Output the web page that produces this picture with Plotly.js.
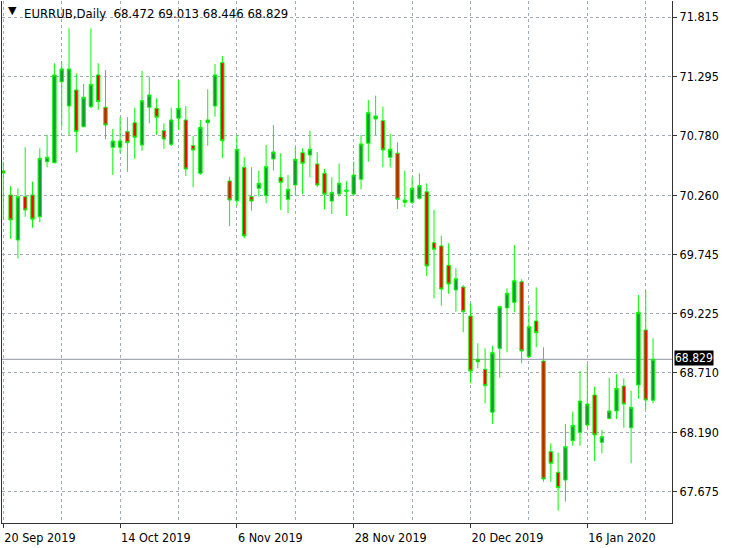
<!DOCTYPE html>
<html>
<head>
<meta charset="utf-8">
<script src="https://cdn.plot.ly/plotly-3.0.1.min.js"></script>
<style>
html,body{margin:0;padding:0;background:#fff;}
#chart{width:730px;height:548px;}
</style>
</head>
<body>
<div id="chart"></div>
<script>
// ---- data (EURRUB daily) ----
var symbol = "EURRUB,Daily";
var openP = [70.472,70.263,69.870,70.248,70.263,70.073,70.553,70.544,71.251,71.039,
71.179,70.859,71.033,71.310,71.028,70.679,70.679,70.815,70.893,70.699,
71.028,71.019,70.824,70.705,70.932,70.917,70.693,70.452,70.893,71.039,
71.417,70.385,70.213,70.504,70.248,70.321,70.257,70.577,70.417,70.225,
70.350,70.632,70.612,70.533,70.452,70.210,70.271,70.293,70.271,70.400,
70.714,70.926,70.911,70.592,70.627,70.199,70.199,70.234,70.291,69.846,
69.818,69.649,69.434,69.460,69.207,68.829,68.742,68.367,68.925,69.277,
69.326,69.506,68.852,69.163,68.814,68.023,67.843,67.776,68.119,68.192,
68.256,68.518,68.105,68.314,68.378,68.596,68.232,68.605,69.085,68.472];
var highP = [70.553,70.341,70.321,70.679,70.379,70.670,70.786,71.412,71.426,71.717,
71.324,71.231,71.717,71.412,71.353,70.839,70.941,70.941,71.024,71.345,
71.295,71.106,70.888,71.024,71.266,71.039,70.777,70.917,71.185,71.406,
71.475,70.422,70.786,70.592,70.504,70.475,70.699,70.873,70.627,70.437,
70.681,70.670,70.824,70.638,70.490,70.417,70.537,70.385,70.555,70.786,
71.092,71.129,71.033,70.795,70.722,70.475,70.417,70.452,70.365,70.132,
69.908,69.841,69.623,69.477,69.318,68.969,68.925,68.948,69.294,69.449,
69.826,69.527,69.303,69.457,68.934,68.096,68.014,68.265,68.372,68.727,
68.788,68.590,68.212,68.669,68.698,68.663,68.555,69.390,69.428,69.013];
var lowP = [70.044,69.879,69.710,70.073,69.977,70.024,70.504,70.540,70.859,70.786,
70.632,70.856,71.020,71.004,70.749,70.437,70.627,70.466,70.577,70.647,
70.888,70.786,70.664,70.690,70.830,70.428,70.330,70.440,70.693,70.946,
70.583,69.992,70.167,69.885,70.126,70.248,70.190,70.475,70.132,70.103,
70.263,70.271,70.417,70.332,70.138,70.097,70.250,70.079,70.254,70.311,
70.553,70.786,70.504,70.504,70.141,70.155,70.184,70.223,69.556,69.361,
69.297,69.399,69.244,69.065,68.620,68.751,68.445,68.265,68.669,68.890,
69.239,68.794,68.840,68.934,67.761,67.761,67.508,67.587,68.075,68.075,
68.238,67.942,68.009,68.305,68.308,68.232,67.922,68.483,68.393,68.446];
var closeP = [70.454,70.045,70.248,70.132,70.051,70.583,70.592,71.310,71.362,71.362,
70.815,71.115,71.228,71.077,70.873,70.734,70.734,70.719,70.766,71.085,
71.135,70.941,70.751,70.917,71.019,70.489,70.655,70.853,70.917,71.310,
70.736,70.219,70.661,69.905,70.210,70.365,70.510,70.638,70.373,70.312,
70.574,70.539,70.661,70.350,70.269,70.286,70.365,70.306,70.437,70.708,
70.981,70.952,70.655,70.661,70.225,70.219,70.321,70.344,69.643,69.789,
69.442,69.486,69.532,69.244,68.727,68.808,68.599,68.887,69.288,69.405,
69.515,68.902,69.114,69.061,67.785,67.922,67.709,68.067,68.253,68.465,
68.439,68.169,68.154,68.378,68.576,68.439,68.410,69.239,68.474,68.829];
var dateTickIdx = [0,16,32,48,64,80];
var dateTickText = ["20 Sep 2019","14 Oct 2019","6 Nov 2019","28 Nov 2019","20 Dec 2019","16 Jan 2020"];
var minorGridIdx = [8,24,40,56,72,88];
var priceTicks = [71.815,71.295,70.780,70.260,69.745,69.225,68.710,68.190,67.675];
var priceTickText = ["71.815","71.295","70.780","70.260","69.745","69.225","68.710","68.190","67.675"];

// ---- build ----
var barIdx = openP.map(function(_, i){ return i; });
var last = openP.length - 1;
var FONT = "'DejaVu Sans Condensed', 'Liberation Sans', sans-serif";
var GRID = '#a2aab7';

var trace = {
  type: 'candlestick',
  x: barIdx, open: openP, high: highP, low: lowP, close: closeP,
  increasing: {line: {color: '#00ff00', width: 1}, fillcolor: '#21923c'},
  decreasing: {line: {color: '#00ff00', width: 1}, fillcolor: '#ff0000'},
  whiskerwidth: 0,
  hoverinfo: 'skip'
};

var header = symbol + '\u00a0 ' + [openP[last], highP[last], lowP[last], closeP[last]].map(function(v){return v.toFixed(3);}).join(' ');

var layout = {
  width: 730, height: 548,
  margin: {l: 2, r: 58, t: 1, b: 25, pad: 0},
  paper_bgcolor: '#ffffff', plot_bgcolor: '#ffffff',
  showlegend: false,
  boxgap: 0.33,
  font: {family: FONT, size: 12, color: '#000'},
  xaxis: {
    range: [-0.18, 91.6],
    rangeslider: {visible: false},
    tickmode: 'array', tickvals: dateTickIdx, ticktext: dateTickText,
    ticks: 'outside', ticklen: 4, tickcolor: '#333', tickwidth: 1,
    ticklabelposition: 'outside right',
    ticklabelstandoff: 3,
    tickfont: {family: FONT, size: 12.5, color: '#000'},
    showgrid: true, gridcolor: GRID, gridwidth: 1, griddash: '3px,3px',
    minor: {tickmode: 'array', tickvals: minorGridIdx, showgrid: true, gridcolor: GRID, gridwidth: 1, griddash: '3px,3px', ticks: ''},
    showline: true, linecolor: '#333', linewidth: 1, mirror: false,
    zeroline: false, fixedrange: true
  },
  yaxis: {
    side: 'right',
    range: [67.401, 71.955],
    tickmode: 'array', tickvals: priceTicks, ticktext: priceTickText,
    ticks: 'outside', ticklen: 4, tickcolor: '#333', tickwidth: 1,
    tickfont: {family: FONT, size: 12.5, color: '#000'},
    showgrid: true, gridcolor: GRID, gridwidth: 1, griddash: '3px,3px',
    showline: true, linecolor: '#333', linewidth: 1, mirror: true,
    zeroline: false, fixedrange: true
  },
  shapes: [{
    type: 'line', xref: 'paper', x0: 0, x1: 1, yref: 'y', y0: closeP[last], y1: closeP[last],
    line: {color: '#8d95a1', width: 1}, layer: 'below'
  }],
  annotations: [
    {xref: 'paper', yref: 'paper', x: 0.0164, y: 0.981, xanchor: 'center', yanchor: 'middle',
     text: '\u25BC', showarrow: false, font: {family: 'DejaVu Sans', size: 11, color: '#000'}},
    {xref: 'paper', yref: 'paper', x: 0.030, y: 0.977, xanchor: 'left', yanchor: 'middle',
     text: header, showarrow: false, font: {family: FONT, size: 13, color: '#000'}},
    {xref: 'paper', yref: 'y', x: 1, y: closeP[last], xanchor: 'left', yanchor: 'middle', xshift: 2, yshift: 1,
     text: closeP[last].toFixed(3), showarrow: false, bgcolor: '#000000', borderpad: 0,
     font: {family: FONT, size: 12, color: '#ffffff'}}
  ]
};

Plotly.newPlot('chart', [trace], layout, {displayModeBar: false, staticPlot: true});
</script>
</body>
</html>
